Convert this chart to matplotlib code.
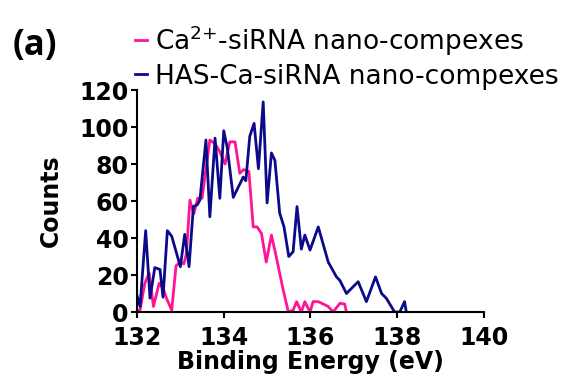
import numpy as np
import matplotlib.pyplot as plt

# binding energy (eV) and counts
e_ca = [132.0, 132.07, 132.18, 132.28, 132.38, 132.51, 132.6, 132.68, 132.8, 132.9,
        133.0, 133.08, 133.14, 133.22, 133.31, 133.4, 133.5, 133.68, 133.8, 133.91,
        134.03, 134.14, 134.26, 134.37, 134.46, 134.58, 134.68, 134.77, 134.87, 134.98,
        135.1, 135.21, 135.37, 135.49, 135.6, 135.68, 135.79, 135.87, 135.99, 136.06,
        136.18, 136.41, 136.52, 136.68, 136.79, 136.83]
c_ca = [1, 1, 15.5, 21, 3, 15.5, 13, 7.4, 1, 25,
        27, 26, 31.7, 60.5, 53, 61.5, 61.5, 93, 91, 86.6,
        80, 92, 92, 75, 77, 76, 46, 46, 42.5, 27,
        41.6, 30, 12, 0, 1, 5.6, 0, 5.6, 0, 5.6,
        5.6, 3, 0, 4.7, 4.3, 0]

e_has = [132.0, 132.07, 132.2, 132.3, 132.41, 132.53, 132.6, 132.7, 132.8, 133.0,
         133.1, 133.2, 133.3, 133.39, 133.45, 133.59, 133.68, 133.8, 133.91, 134.0,
         134.08, 134.22, 134.45, 134.51, 134.6, 134.7, 134.8, 134.91, 135.0, 135.1,
         135.18, 135.29, 135.39, 135.5, 135.6, 135.69, 135.79, 135.87, 135.99, 136.18,
         136.41, 136.6, 136.68, 136.83, 137.1, 137.29, 137.5, 137.64, 137.75, 137.94,
         138.06, 138.17, 138.21]
c_has = [9, 3, 44, 7.5, 24, 23, 8, 44, 41, 24.5,
         42, 24.5, 57, 58, 60.5, 93, 51.5, 94, 61.5, 98,
         89, 62, 73, 71, 95, 102, 77.5, 113.6, 59, 86,
         82, 53.5, 46, 30, 32.6, 57, 34, 41.6, 33.5, 46,
         27, 19, 17, 10, 16.4, 5.6, 19, 10, 7.4, 0,
         0, 5.6, 0]

x_ticks = [132, 134, 136, 138, 140]
y_ticks = [0, 20, 40, 60, 80, 100, 120]

plt.rcParams['font.family'] = ['DejaVu Sans']

fig = plt.figure(figsize=(5.87, 3.9), dpi=100)
ax = fig.add_axes([0.2334, 0.2, 0.591, 0.569])

ax.plot(e_ca, c_ca, color='#ff1493', lw=2.0, label=r'Ca$^{\mathregular{2{+}}}$-siRNA nano-compexes')
ax.plot(e_has, c_has, color='#0a0a8a', lw=2.0, label='HAS-Ca-siRNA nano-compexes')

ax.set_xlim(132, 140)
ax.set_ylim(0, 120)
ax.set_xticks(x_ticks)
ax.set_yticks(y_ticks)
for s in ['top', 'right']:
    ax.spines[s].set_visible(False)
for s in ['left', 'bottom']:
    ax.spines[s].set_linewidth(1.5)
ax.tick_params(direction='out', length=4, width=1.5, labelsize=17)
ax.tick_params(axis='x', pad=6)
ax.tick_params(axis='y', pad=2)
for lab in ax.get_xticklabels() + ax.get_yticklabels():
    lab.set_fontweight('bold')
ax.set_xlabel('Binding Energy (eV)', fontsize=17, fontweight='bold', labelpad=0)
ax.set_ylabel('Counts', fontsize=17, fontweight='bold', labelpad=12)

ax.legend(loc='lower left', bbox_to_anchor=(-0.035, 0.955), frameon=False, fontsize=19,
          handlelength=0.45, handletextpad=0.3, labelspacing=0.22, borderaxespad=0)

fig.text(0.022, 0.86, '(a)', fontsize=25, fontweight='bold', family=['Open Sans', 'DejaVu Sans'])

plt.savefig('out.png', dpi=100)
